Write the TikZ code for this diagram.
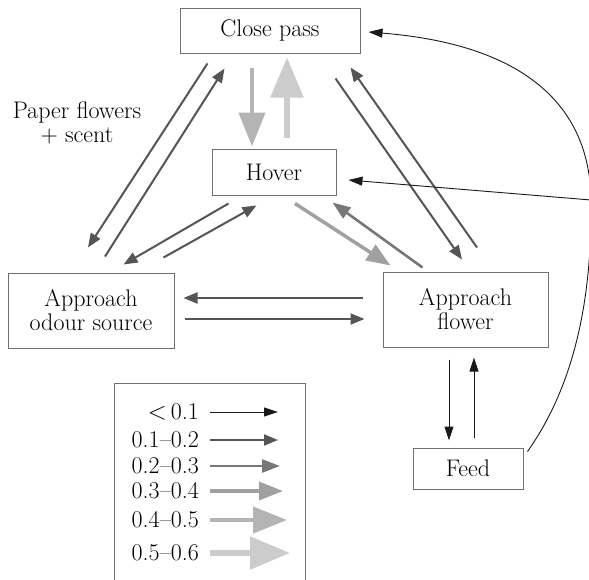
\documentclass[tikz,border=0pt]{standalone}
\usetikzlibrary{arrows.meta}
\definecolor{boxc}{HTML}{707070}
\definecolor{cA}{HTML}{1A1A1A}
\definecolor{cB}{HTML}{555555}
\definecolor{cC}{HTML}{777777}
\definecolor{cD}{HTML}{A0A0A0}
\definecolor{cE}{HTML}{B4B4B4}
\definecolor{cF}{HTML}{CCCCCC}
\tikzset{
  box/.style={draw=boxc, line width=1pt, rectangle, inner sep=0pt, align=center,
    font=\fontsize{24}{24}\selectfont},
  lbl/.style={inner sep=0pt, align=center, font=\fontsize{24}{24}\selectfont},
  gA/.style={draw=cA, line width=1pt, -{Triangle[length=14pt,width=9pt]}},
  gB/.style={draw=cB, line width=2pt, -{Triangle[length=14pt,width=11pt]}},
  gC/.style={draw=cC, line width=2.6pt, -{Triangle[length=18pt,width=13pt]}},
  gD/.style={draw=cD, line width=3.5pt, -{Triangle[length=24pt,width=18pt]}},
  gE/.style={draw=cE, line width=4.5pt, -{Triangle[length=34pt,width=26pt]}},
  gF/.style={draw=cF, line width=5.5pt, -{Triangle[length=40pt,width=32pt]}},
  thin/.style={draw=cA, line width=0.9pt, -{Triangle[length=14pt,width=9pt]}}
}
\begin{document}
\begin{tikzpicture}[x=1pt,y=-1pt]
\useasboundingbox (0,0) rectangle (589,579);
% nodes
\node[box, minimum width=180pt, minimum height=45pt] (close) at (270,30.5) {Close pass};
\node[box, minimum width=124pt, minimum height=46pt] (hover) at (274,172) {Hover};
\node[box, minimum width=166pt, minimum height=75pt] (odour) at (91,310.5) {Approach\\odour source};
\node[box, minimum width=165pt, minimum height=75pt] (flower) at (465.5,309.5) {Approach\\flower};
\node[box, minimum width=110pt, minimum height=41pt] (feed) at (468,468.5) {Feed};
\node[lbl] (paper) at (77,123) {Paper flowers\\+ scent};

% close <-> odour
\draw[gB] ([shift={(28,10)}]close.south west) -- ([shift={(-3,-25)}]odour.north);
\draw[gB] ([shift={(14,-16)}]odour.north) -- ([shift={(45,15)}]close.south west);
% hover <-> odour
\draw[gB] ([shift={(17,8)}]hover.south west) -- ([shift={(-51,-8)}]odour.north east);
\draw[gB] ([shift={(-11,-15)}]odour.north east) -- ([shift={(45,10)}]hover.south west);
% hover <-> flower
\draw[gD] ([shift={(21,8)}]hover.south) -- ([shift={(8,-6)}]flower.north west);
\draw[gC] ([shift={(40,-4)}]flower.north west) -- ([shift={(-4,7)}]hover.south east);
% close <-> flower
\draw[gB] ([shift={(-25,25)}]close.south east) -- ([shift={(-3.5,-12)}]flower.north);
\draw[gB] ([shift={(11.5,-24)}]flower.north) -- ([shift={(-10,14)}]close.south east);
% flower <-> odour
\draw[gB] ([shift={(-20,-11.5)}]flower.west) -- ([shift={(9,-12.5)}]odour.east);
\draw[gB] ([shift={(10,8.5)}]odour.east) -- ([shift={(-18,9.5)}]flower.west);
% close <-> hover
\draw[gE] ([shift={(-18,14)}]close.south) -- ([shift={(-22,-2)}]hover.north);
\draw[gF] ([shift={(13,-11)}]hover.north) -- ([shift={(17,4)}]close.south);
% flower <-> feed
\draw[gA] ([shift={(-16.5,12)}]flower.south) -- ([shift={(-19,-7)}]feed.north);
\draw[gA] ([shift={(6,-10)}]feed.north) -- ([shift={(8.5,10)}]flower.south);
% feed -> close pass curve, branch to hover
\coordinate (branch) at (591,200);
\draw[thin] ([shift={(4,4)}]feed.north east) .. controls (578,380) and (592,290) .. (branch)
  .. controls (590,110) and (530,45) .. ([shift={(8,1.5)}]close.east);
\draw[thin] (branch) -- ([shift={(12,8)}]hover.east);

% legend
\draw[draw=boxc, line width=1pt] (114,580) -- (114,383) -- (305,383) -- (305,580);
\node[lbl, anchor=east] (l1) at (199,412) {$<$\,0.1};
\node[lbl, anchor=east] (l2) at (199,440) {0.1--0.2};
\node[lbl, anchor=east] (l3) at (199,466) {0.2--0.3};
\node[lbl, anchor=east] (l4) at (199,491) {0.3--0.4};
\node[lbl, anchor=east] (l5) at (199,520) {0.4--0.5};
\node[lbl, anchor=east] (l6) at (199,553) {0.5--0.6};
\draw[gA] ([xshift=11pt]l1.east) -- ++(68,0);
\draw[gB] ([xshift=11pt]l2.east) -- ++(68,0);
\draw[gC] ([xshift=11pt]l3.east) -- ++(70,0);
\draw[gD] ([xshift=11pt]l4.east) -- ++(73,0);
\draw[gE] ([xshift=11pt]l5.east) -- ++(77,0);
\draw[gF] ([xshift=11pt]l6.east) -- ++(80,0);
\end{tikzpicture}
\end{document}
